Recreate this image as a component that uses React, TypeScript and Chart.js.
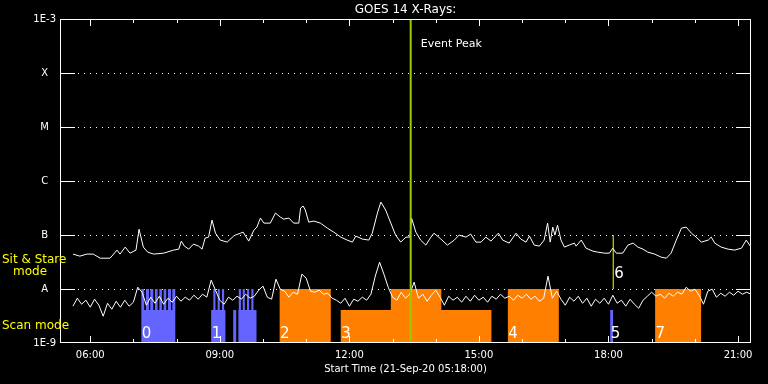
import React, { useEffect, useRef } from 'react';
import { Chart, registerables } from 'chart.js';

Chart.register(...registerables);

const FONT = '"DejaVu Sans", "Liberation Sans", sans-serif';

const TITLE = 'GOES 14 X-Rays:';
const X_TITLE = 'Start Time (21-Sep-20 05:18:00)';
const EVENT_LABEL = 'Event Peak';
const STARE_LABEL_1 = 'Sit & Stare';
const STARE_LABEL_2 = 'mode';
const SCAN_LABEL = 'Scan mode';

const T_MIN = 5.3; // 05:18
const T_MAX = 21.3;
const FLUX_MIN = 1e-9;
const FLUX_MAX = 1e-3;

const hourTicks = [6, 7, 8, 9, 10, 11, 12, 13, 14, 15, 16, 17, 18, 19, 20, 21];
const majorHours = [6, 9, 12, 15, 18, 21];
const majorHourLabels = ['06:00', '09:00', '12:00', '15:00', '18:00', '21:00'];

const decadeTicks = [1e-9, 1e-8, 1e-7, 1e-6, 1e-5, 1e-4, 1e-3];
const decadeLabels = ['1E-9', 'A', 'B', 'C', 'M', 'X', '1E-3'];
const gridDecades = [1e-8, 1e-7, 1e-6, 1e-5, 1e-4];

// GOES long channel (1-8 A), hours of day
const longTimes = [
  5.60, 5.76, 5.92, 6.07, 6.23, 6.46, 6.62, 6.69, 6.81, 6.92,
  7.06, 7.13, 7.23, 7.33, 7.47, 7.70, 7.93, 8.05, 8.11, 8.18,
  8.28, 8.39, 8.51, 8.59, 8.66, 8.74, 8.82, 8.90, 9.01, 9.17,
  9.32, 9.36, 9.48, 9.54, 9.67, 9.79, 9.86, 9.94, 10.02, 10.17,
  10.29, 10.40, 10.48, 10.60, 10.71, 10.83, 10.87, 10.93, 10.98, 11.06,
  11.18, 11.33, 11.49, 11.64, 11.80, 11.95, 12.07, 12.15, 12.30, 12.45,
  12.53, 12.65, 12.73, 12.84, 12.96, 13.07, 13.19, 13.31, 13.40, 13.44,
  13.54, 13.65, 13.77, 13.89, 13.96, 14.12, 14.27, 14.43, 14.54, 14.70,
  14.81, 14.93, 15.05, 15.16, 15.28, 15.45, 15.55, 15.70, 15.86, 15.97,
  16.09, 16.17, 16.28, 16.40, 16.51, 16.59, 16.65, 16.71, 16.76, 16.82,
  16.90, 16.98, 17.09, 17.21, 17.25, 17.37, 17.48, 17.64, 17.75, 17.91,
  18.02, 18.10, 18.18, 18.33, 18.45, 18.57, 18.68, 18.80, 18.91, 19.07,
  19.22, 19.34, 19.45, 19.57, 19.69, 19.80, 19.92, 20.03, 20.15, 20.31,
  20.38, 20.46, 20.61, 20.77, 20.92, 21.08, 21.19, 21.30,
];
const longFlux = [
  4.43e-8, 4.06e-8, 4.43e-8, 4.43e-8, 3.72e-8, 3.72e-8, 5.25e-8, 4.43e-8, 5.97e-8, 4.61e-8,
  5.25e-8, 1.28e-7, 5.97e-8, 4.82e-8, 4.43e-8, 4.61e-8, 5.25e-8, 5.47e-8, 7.71e-8, 6.22e-8,
  5.47e-8, 6.78e-8, 6.22e-8, 5.47e-8, 8.77e-8, 9.14e-8, 1.89e-7, 1.08e-7, 8.05e-8, 7.38e-8,
  9.55e-8, 9.96e-8, 1.08e-7, 1.13e-7, 7.71e-8, 1.23e-7, 1.40e-7, 2.06e-7, 1.66e-7, 1.66e-7,
  2.55e-7, 2.15e-7, 1.97e-7, 2.06e-7, 1.66e-7, 1.66e-7, 3.15e-7, 3.44e-7, 2.90e-7, 1.73e-7,
  1.81e-7, 1.66e-7, 1.34e-7, 1.13e-7, 9.14e-8, 8.05e-8, 7.38e-8, 9.55e-8, 8.40e-8, 8.05e-8,
  1.08e-7, 2.55e-7, 4.07e-7, 2.90e-7, 1.66e-7, 9.96e-8, 7.38e-8, 9.14e-8, 9.14e-8, 2.06e-7,
  1.13e-7, 8.05e-8, 6.50e-8, 9.14e-8, 1.08e-7, 8.40e-8, 6.50e-8, 8.05e-8, 9.96e-8, 9.14e-8,
  1.04e-7, 7.38e-8, 7.38e-8, 9.14e-8, 7.71e-8, 1.08e-7, 8.05e-8, 7.08e-8, 1.08e-7, 8.40e-8,
  7.38e-8, 9.55e-8, 6.50e-8, 6.22e-8, 8.05e-8, 1.66e-7, 7.38e-8, 1.40e-7, 9.96e-8, 1.52e-7,
  8.05e-8, 5.97e-8, 6.50e-8, 7.08e-8, 6.22e-8, 8.05e-8, 5.71e-8, 5.02e-8, 4.82e-8, 4.61e-8,
  4.61e-8, 5.71e-8, 4.61e-8, 4.61e-8, 6.50e-8, 7.08e-8, 5.97e-8, 5.47e-8, 4.82e-8, 4.43e-8,
  3.89e-8, 3.72e-8, 4.61e-8, 8.05e-8, 1.34e-7, 1.40e-7, 1.08e-7, 9.14e-8, 7.38e-8, 8.05e-8,
  9.14e-8, 7.08e-8, 5.97e-8, 5.47e-8, 5.25e-8, 5.71e-8, 8.05e-8, 5.97e-8,
];

// GOES short channel (0.5-4 A), sampled every 0.1 h from 05:36
const shortStart = 5.6;
const shortCadence = 0.1;
const shortFlux = [
  4.80e-9, 6.75e-9, 5.22e-9, 6.20e-9, 4.60e-9, 6.47e-9, 5.01e-9, 3.13e-9, 5.45e-9, 4.22e-9,
  5.94e-9, 4.60e-9, 6.20e-9, 4.80e-9, 5.69e-9, 1.08e-8, 8.72e-9, 5.01e-9, 7.05e-9, 5.45e-9,
  7.35e-9, 5.22e-9, 6.75e-9, 5.69e-9, 7.35e-9, 5.94e-9, 7.05e-9, 6.20e-9, 7.67e-9, 6.47e-9,
  8.01e-9, 7.05e-9, 1.46e-8, 9.50e-9, 6.20e-9, 5.22e-9, 7.05e-9, 6.20e-9, 7.35e-9, 6.47e-9,
  8.01e-9, 6.75e-9, 7.35e-9, 9.50e-9, 1.13e-8, 7.05e-9, 6.47e-9, 1.52e-8, 9.92e-9, 9.10e-9,
  7.05e-9, 8.72e-9, 8.01e-9, 1.88e-8, 1.59e-8, 9.10e-9, 8.72e-9, 9.50e-9, 8.01e-9, 8.36e-9,
  6.75e-9, 6.20e-9, 5.45e-9, 6.75e-9, 4.80e-9, 6.47e-9, 5.94e-9, 7.05e-9, 6.20e-9, 8.01e-9,
  1.73e-8, 3.14e-8, 1.88e-8, 1.08e-8, 7.05e-9, 6.20e-9, 8.72e-9, 6.75e-9, 8.01e-9, 1.34e-8,
  6.75e-9, 8.01e-9, 5.94e-9, 7.67e-9, 9.50e-9, 7.05e-9, 5.01e-9, 7.35e-9, 6.20e-9, 7.05e-9,
  5.69e-9, 7.35e-9, 5.94e-9, 7.67e-9, 6.20e-9, 7.05e-9, 5.69e-9, 7.35e-9, 6.47e-9, 8.01e-9,
  6.75e-9, 7.35e-9, 6.20e-9, 7.67e-9, 6.75e-9, 8.01e-9, 6.47e-9, 7.35e-9, 5.94e-9, 6.75e-9,
  1.73e-8, 6.75e-9, 9.10e-9, 6.47e-9, 5.01e-9, 7.05e-9, 5.94e-9, 7.35e-9, 5.45e-9, 6.75e-9,
  4.80e-9, 6.47e-9, 5.45e-9, 6.75e-9, 5.22e-9, 7.67e-9, 5.45e-9, 6.20e-9, 4.80e-9, 6.47e-9,
  5.22e-9, 4.40e-9, 6.20e-9, 7.35e-9, 8.72e-9, 7.35e-9, 8.01e-9, 6.75e-9, 8.36e-9, 7.35e-9,
  8.72e-9, 8.01e-9, 1.08e-8, 9.10e-9, 9.92e-9, 7.67e-9, 5.22e-9, 9.10e-9, 9.92e-9, 7.05e-9,
  8.36e-9, 7.35e-9, 8.72e-9, 7.67e-9, 9.10e-9, 8.01e-9, 8.72e-9, 8.01e-9,
];

// Scan mode rasters (blue): start hour, end hour, top value
const scanStarts = [7.18, 7.18, 7.29, 7.39, 7.50, 7.60, 7.70, 7.80, 7.90, 8.80, 8.85, 8.95, 9.05, 9.31, 9.43, 9.44, 9.53, 9.63, 9.73, 18.04];
const scanEnds = [7.97, 7.25, 7.36, 7.46, 7.56, 7.66, 7.76, 7.87, 7.97, 9.13, 8.90, 9.00, 9.10, 9.38, 9.85, 9.49, 9.58, 9.68, 9.78, 18.11];
const scanTops = [4.1e-9, 1e-8, 1e-8, 1e-8, 1e-8, 1e-8, 1e-8, 1e-8, 1e-8, 4.1e-9, 1e-8, 1e-8, 1e-8, 4.1e-9, 4.1e-9, 1e-8, 1e-8, 1e-8, 1e-8, 4.1e-9];

// Sit & stare rasters (orange)
const stareStarts = [10.38, 11.80, 12.96, 15.67, 19.08];
const stareEnds = [11.57, 15.29, 14.13, 16.85, 20.15];
const stareTops = [1e-8, 4.1e-9, 1e-8, 1e-8, 1e-8];

const blockLabels = ['0', '1', '2', '3', '4', '5', '7'];
const blockLabelTimes = [7.18, 8.80, 10.38, 11.80, 15.67, 18.04, 19.08];

const flagTime = 18.11;
const flagLow = 1e-8;
const flagHigh = 1e-7;
const flagLabel = '6';

const eventPeakTime = 13.42;

const SCAN_COLOR = '#6464ff';
const STARE_COLOR = '#ff8000';
const EVENT_COLOR = '#99cc00';
const FLAG_COLOR = '#ffff00';
const LABEL_YELLOW = '#ffff00';

function rectPoints(starts: number[], ends: number[], tops: number[]) {
  const pts: { x: number; y: number }[] = [];
  starts.forEach((s, i) => {
    pts.push({ x: s, y: FLUX_MIN }, { x: s, y: tops[i] }, { x: ends[i], y: tops[i] }, { x: ends[i], y: FLUX_MIN });
  });
  return pts;
}

const decorPlugin = {
  id: 'goesDecor',
  beforeDraw(chart: any) {
    const { ctx, width, height } = chart;
    ctx.save();
    ctx.fillStyle = '#000';
    ctx.fillRect(0, 0, width, height);
    ctx.restore();
  },
  beforeDatasetsDraw(chart: any) {
    const { ctx, chartArea, scales } = chart;
    const { left, right } = chartArea;
    ctx.save();
    ctx.fillStyle = '#fff';
    for (const v of gridDecades) {
      const py = Math.round(scales.y.getPixelForValue(v));
      for (let px = left + 18; px < right - 15; px += 6) ctx.fillRect(px, py, 1, 1);
    }
    ctx.restore();
  },
  afterDatasetsDraw(chart: any) {
    const { ctx, chartArea, scales } = chart;
    const { left, right, top, bottom } = chartArea;
    const xs = scales.x;
    const ys = scales.y;
    ctx.save();
    ctx.fillStyle = '#fff';
    // frame
    ctx.fillRect(left, top, right - left, 1);
    ctx.fillRect(left, bottom - 1, right - left, 1);
    ctx.fillRect(left, top, 1, bottom - top);
    ctx.fillRect(right - 1, top, 1, bottom - top);
    // x ticks (inward, top and bottom)
    xs.ticks.forEach((t: any) => {
      const px = Math.round(xs.getPixelForValue(t.value));
      const len = majorHours.indexOf(t.value) >= 0 ? 6 : 3;
      ctx.fillRect(px, bottom - 1 - len, 1, len);
      ctx.fillRect(px, top + 1, 1, len);
    });
    // y ticks (inward, left and right)
    ys.ticks.forEach((t: any) => {
      const py = Math.min(Math.round(ys.getPixelForValue(t.value)), bottom - 1);
      ctx.fillRect(left, py, 15, 1);
      ctx.fillRect(right - 15, py, 15, 1);
    });

    // texts
    ctx.textBaseline = 'alphabetic';
    ctx.textAlign = 'center';
    ctx.font = `12px ${FONT}`;
    ctx.fillText(TITLE, (left + right) / 2, 13);

    ctx.textAlign = 'left';
    ctx.font = `11px ${FONT}`;
    ctx.fillText(EVENT_LABEL, xs.getPixelForValue(eventPeakTime) + 10, top + 27.5);

    ctx.font = `15px ${FONT}`;
    blockLabels.forEach((lab, i) => {
      ctx.fillText(lab, xs.getPixelForValue(blockLabelTimes[i]) + 0.5, bottom - 5);
    });
    const yA = ys.getPixelForValue(1e-8);
    ctx.fillText(flagLabel, xs.getPixelForValue(flagTime) + 1, yA - 11);

    ctx.fillStyle = LABEL_YELLOW;
    ctx.font = `12px ${FONT}`;
    ctx.fillText(STARE_LABEL_1, 2, yA - 26.5);
    ctx.fillText(STARE_LABEL_2, 13, yA - 14);
    ctx.fillText(SCAN_LABEL, 2, yA + 39.5);
    ctx.restore();
  },
};

export default function App() {
  const canvasRef = useRef<HTMLCanvasElement | null>(null);

  useEffect(() => {
    document.body.style.margin = '0';
    document.body.style.background = '#000';
    const canvas = canvasRef.current;
    if (!canvas) return;

    const longData = longTimes.map((t, i) => ({ x: t, y: longFlux[i] }));
    const shortData = shortFlux.map((f, i) => ({ x: shortStart + i * shortCadence, y: f }));

    const chart = new Chart(canvas, {
      type: 'line',
      data: {
        datasets: [
          {
            label: 'Event Peak',
            data: [
              { x: eventPeakTime, y: FLUX_MIN },
              { x: eventPeakTime, y: FLUX_MAX },
            ],
            borderColor: EVENT_COLOR,
            borderWidth: 2,
            pointRadius: 0,
            fill: false,
          },
          {
            label: 'flag 6',
            data: [
              { x: flagTime, y: flagLow },
              { x: flagTime, y: flagHigh },
            ],
            borderColor: FLAG_COLOR,
            borderWidth: 1,
            pointRadius: 0,
            fill: false,
          },
          {
            label: '1-8 A',
            data: longData,
            borderColor: '#ffffff',
            borderWidth: 1,
            pointRadius: 0,
            tension: 0,
            fill: false,
          },
          {
            label: '0.5-4 A',
            data: shortData,
            borderColor: '#ffffff',
            borderWidth: 1,
            pointRadius: 0,
            tension: 0,
            fill: false,
          },
          {
            label: 'Sit & Stare',
            data: rectPoints(stareStarts, stareEnds, stareTops),
            borderWidth: 0,
            borderColor: STARE_COLOR,
            backgroundColor: STARE_COLOR,
            pointRadius: 0,
            tension: 0,
            fill: 'start',
          },
          {
            label: 'Scan',
            data: rectPoints(scanStarts, scanEnds, scanTops),
            borderWidth: 0,
            borderColor: SCAN_COLOR,
            backgroundColor: SCAN_COLOR,
            pointRadius: 0,
            tension: 0,
            fill: 'start',
          },
        ],
      },
      options: {
        responsive: false,
        animation: false,
        devicePixelRatio: 1,
        events: [],
        layout: { padding: { top: 19, right: 17, left: 0, bottom: 0 } },
        plugins: {
          legend: { display: false },
          title: { display: false },
          tooltip: { enabled: false },
        },
        scales: {
          x: {
            type: 'linear',
            position: 'bottom',
            min: T_MIN,
            max: T_MAX,
            grid: { display: false, drawTicks: false },
            border: { display: false },
            afterBuildTicks: (s: any) => {
              s.ticks = hourTicks.map((v) => ({ value: v }));
            },
            afterFit: (s: any) => {
              s.height = 41;
            },
            ticks: {
              autoSkip: false,
              maxRotation: 0,
              padding: 6,
              color: '#ffffff',
              font: { family: FONT, size: 10 },
              callback: (v: any) => {
                const i = majorHours.indexOf(Number(v));
                return i >= 0 ? majorHourLabels[i] : '';
              },
            },
            title: {
              display: true,
              text: X_TITLE,
              color: '#ffffff',
              font: { family: FONT, size: 10 },
              padding: { top: 0, bottom: 9 },
            },
          },
          y: {
            type: 'logarithmic',
            min: FLUX_MIN,
            max: FLUX_MAX,
            grid: { display: false, drawTicks: false },
            border: { display: false },
            afterBuildTicks: (s: any) => {
              s.ticks = decadeTicks.map((v) => ({ value: v }));
            },
            afterFit: (s: any) => {
              s.width = 60;
            },
            ticks: {
              crossAlign: 'center',
              padding: 4,
              color: '#ffffff',
              font: { family: FONT, size: 10 },
              callback: (v: any) => {
                const i = decadeTicks.indexOf(Number(v));
                return i >= 0 ? decadeLabels[i] : '';
              },
            },
          },
        },
      } as any,
      plugins: [decorPlugin],
    });

    return () => {
      chart.destroy();
    };
  }, []);

  return (
    <div style={{ position: 'fixed', left: 0, top: 0, width: 768, height: 384, background: '#000' }}>
      <canvas ref={canvasRef} width={768} height={384} style={{ display: 'block' }} />
    </div>
  );
}
